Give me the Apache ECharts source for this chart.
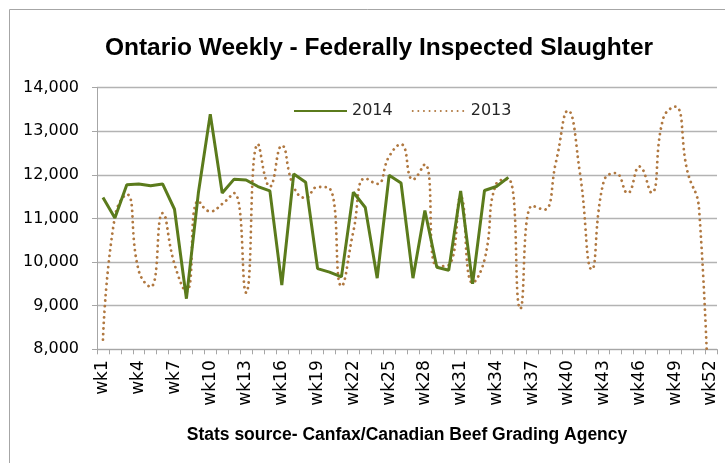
<!DOCTYPE html>
<html>
<head>
<meta charset="utf-8">
<script src="https://cdn.jsdelivr.net/npm/echarts@6/dist/echarts.min.js"></script>
<style>
html,body{margin:0;padding:0;background:#fff;}
#c{width:725px;height:463px;}
</style>
</head>
<body>
<div id="c"></div>
<script>
var weeks = ['wk1','wk2','wk3','wk4','wk5','wk6','wk7','wk8','wk9','wk10','wk11','wk12','wk13','wk14','wk15','wk16','wk17','wk18','wk19','wk20','wk21','wk22','wk23','wk24','wk25','wk26','wk27','wk28','wk29','wk30','wk31','wk32','wk33','wk34','wk35','wk36','wk37','wk38','wk39','wk40','wk41','wk42','wk43','wk44','wk45','wk46','wk47','wk48','wk49','wk50','wk51','wk52'];
var y2014 = [11480, 11010, 11770, 11790, 11750, 11790, 11210, 9160, 11580, 13390, 11580, 11900, 11880, 11730, 11630, 9470, 12020, 11830, 9850, 9770, 9660, 11600, 11250, 9630, 11990, 11810, 9630, 11180, 9880, 9810, 11630, 9500, 11640, 11730, 11940];
var y2013 = [8220, 11040, 11550, 9800, 9430, 11120, 9950, 9320, 11400, 11160, 11330, 11580, 9300, 12700, 11730, 12670, 11720, 11470, 11720, 11690, 9450, 10700, 11920, 11790, 12420, 12700, 11890, 12240, 9900, 9930, 11500, 9520, 10050, 11800, 11900, 8930, 11290, 11200, 12300, 13470, 12050, 9830, 11850, 12040, 11580, 12190, 11590, 13300, 13560, 12100, 11200, 4300];
var seriesNames = ['2014', '2013'];
var titleText = 'Ontario Weekly - Federally Inspected Slaughter';
var xAxisTitle = 'Stats source- Canfax/Canadian Beef Grading Agency';

var sans = '"Liberation Sans", Arial, sans-serif';
var chart = echarts.init(document.getElementById('c'), null, {renderer: 'canvas'});
chart.setOption({
  animation: false,
  backgroundColor: '#ffffff',
  graphic: [{
    type: 'rect', shape: {x: 9.5, y: 9.5, width: 730, height: 470},
    style: {fill: 'none', stroke: '#a6a6a6', lineWidth: 1}, silent: true
  }],
  title: {
    text: titleText,
    left: 374, top: 31, textAlign: 'center',
    textStyle: {fontFamily: sans, fontWeight: 'bold', fontSize: 24.5, color: '#000000'}
  },
  legend: {
    data: seriesNames,
    left: 293, top: 103, padding: 0,
    itemWidth: 53, itemHeight: 14, itemGap: 19,
    itemStyle: {color: 'rgba(0,0,0,0)', borderWidth: 0, opacity: 0},
    textStyle: {fontFamily: 'DejaVu Sans', fontSize: 16, color: '#262626'}
  },
  grid: {left: 97, right: 8, top: 87.5, bottom: 113.7, containLabel: false},
  xAxis: {
    type: 'category',
    data: weeks,
    boundaryGap: true,
    name: xAxisTitle,
    nameLocation: 'middle',
    nameGap: 77,
    nameTextStyle: {fontFamily: sans, fontWeight: 'bold', fontSize: 17.5, color: '#000000'},
    axisLine: {show: true, lineStyle: {color: '#a6a6a6', width: 1}},
    axisTick: {show: true, interval: 0, length: 5, lineStyle: {color: '#a6a6a6'}},
    axisLabel: {interval: 2, rotate: 90, margin: 11, fontFamily: 'DejaVu Sans', fontSize: 17, color: '#000000'},
    splitLine: {show: false}
  },
  yAxis: {
    type: 'value',
    min: 8000, max: 14000, interval: 1000,
    axisLine: {show: true, lineStyle: {color: '#a6a6a6', width: 1}},
    axisTick: {show: true, length: 5, lineStyle: {color: '#a6a6a6'}},
    axisLabel: {
      margin: 18, fontFamily: 'DejaVu Sans', fontSize: 16, color: '#000000',
      formatter: function (v) { return v.toLocaleString('en-US'); }
    },
    splitLine: {show: true, lineStyle: {color: '#b3b3b3', width: 1.3}}
  },
  series: [
    {
      name: seriesNames[0], type: 'line', data: y2014, symbol: 'none', smooth: false,
      lineStyle: {color: '#5b7b1c', width: 3}, itemStyle: {color: '#5b7b1c'}, z: 3
    },
    {
      name: seriesNames[1], type: 'line', data: y2013, symbol: 'none', smooth: 0.5, clip: true,
      lineStyle: {color: '#b07840', width: 2.8, type: [0.01, 5.6], cap: 'round'}, itemStyle: {color: '#b07840'}, z: 2
    }
  ]
});
</script>
</body>
</html>
